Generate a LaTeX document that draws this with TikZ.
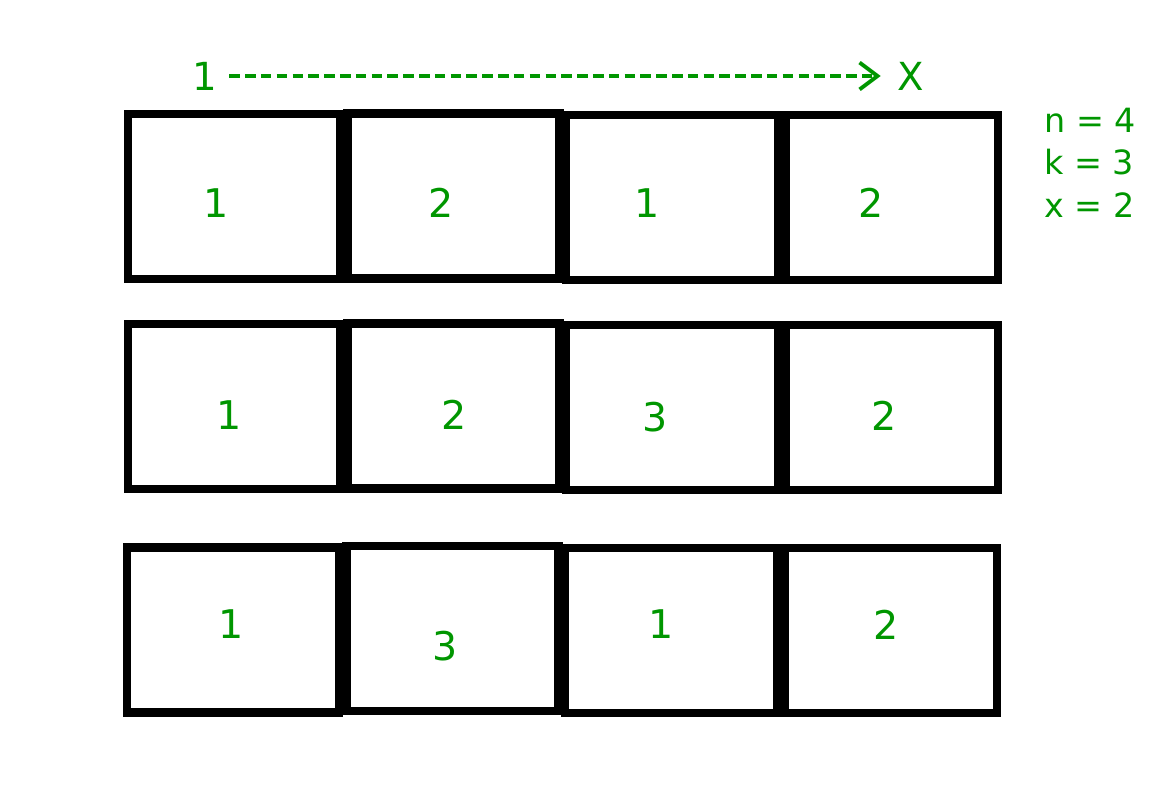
\documentclass[tikz,border=0pt]{standalone}
\usepackage{fontspec}
\setmainfont{DejaVu Sans}
\usetikzlibrary{arrows.meta}
\definecolor{digitgreen}{RGB}{0,150,0}

\begin{document}
\begin{tikzpicture}[x=0.02cm, y=-0.02cm]
    \tikzstyle{cell_box} = [draw=black, line width=4.6pt, rectangle, minimum width=4.24cm, minimum height=3.3cm, inner sep=0pt]
    \tikzstyle{cell_num} = [text=digitgreen, inner sep=0pt, font=\fontsize{22.5}{27}\selectfont]
    \tikzstyle{side_note} = [text=digitgreen, inner sep=0pt, anchor=base west, font=\fontsize{19}{23}\selectfont]
    \tikzstyle{arrow_dash} = [-{Straight Barb[length=10.2pt, width=15.3pt]}, digitgreen, line width=2.2pt, dash pattern=on 6pt off 3pt]

    \useasboundingbox (0,0) rectangle (1174,810);

    \node[cell_num, font=\fontsize{22}{26}\selectfont] (x_from) at (204.5,76) {1};
    \node[cell_num, font=\fontsize{22}{26}\selectfont] (x_to) at (911,76) {X};
    \draw[arrow_dash, shorten <=6.9pt, shorten >=9.5pt] (x_from) -- (x_to);

    \node[side_note] (n_val) at (1044,133) {n = 4};
    \node[side_note] (k_val) at (1044,175) {k = 3};
    \node[side_note] (x_val) at (1044,218) {x = 2};

    % ---------------------------------------

    \node[cell_box] (r1c1) at (234,196.5) {};
    \node[cell_box] (r1c2) at (453.5,196) {};
    \node[cell_box] (r1c3) at (672,197.5) {};
    \node[cell_box] (r1c4) at (892,197.5) {};

    \node[cell_num] (r1n1) at (216,203) {1};
    \node[cell_num] (r1n2) at (441.5,203) {2};
    \node[cell_num] (r1n3) at (647,203) {1};
    \node[cell_num] (r1n4) at (871.5,203) {2};

    % ---------------------------------------

    \node[cell_box] (r2c1) at (234,406.5) {};
    \node[cell_box] (r2c2) at (453.5,406) {};
    \node[cell_box] (r2c3) at (672,407.5) {};
    \node[cell_box] (r2c4) at (892,407.5) {};

    \node[cell_num] (r2n1) at (229.5,415) {1};
    \node[cell_num] (r2n2) at (454,415) {2};
    \node[cell_num] (r2n3) at (655,417) {3};
    \node[cell_num] (r2n4) at (884,415.5) {2};

    % ---------------------------------------

    \node[cell_box] (r3c1) at (233,630) {};
    \node[cell_box] (r3c2) at (452.5,628.5) {};
    \node[cell_box] (r3c3) at (671,630.5) {};
    \node[cell_box] (r3c4) at (891,630.5) {};

    \node[cell_num] (r3n1) at (231.5,624.5) {1};
    \node[cell_num] (r3n2) at (445.5,646.5) {3};
    \node[cell_num] (r3n3) at (661.5,624.5) {1};
    \node[cell_num] (r3n4) at (886,624.5) {2};

\end{tikzpicture}
\end{document}
